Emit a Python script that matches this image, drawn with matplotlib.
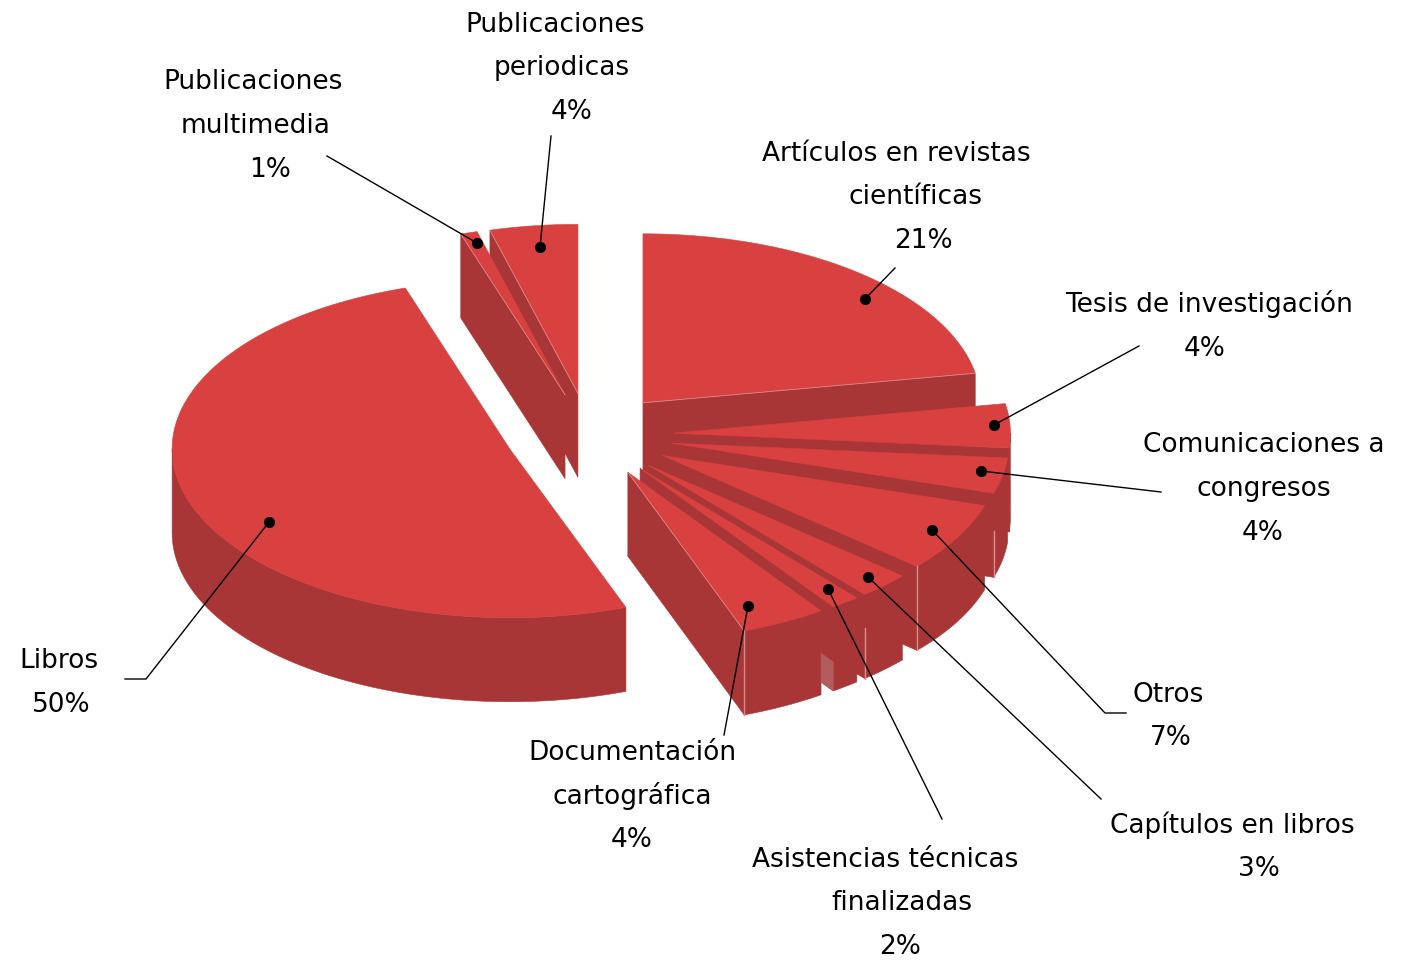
import numpy as np
import matplotlib
matplotlib.use('Agg')
import matplotlib.pyplot as plt
from matplotlib.patches import Polygon

# slices, clockwise from 12 o'clock
categories = ['Artículos en revistas científicas', 'Tesis de investigación',
              'Comunicaciones a congresos', 'Otros', 'Capítulos en libros',
              'Asistencias técnicas finalizadas', 'Documentación cartográfica',
              'Libros', 'Publicaciones multimedia', 'Publicaciones periodicas']
values = [22.2, 4.2, 3.4, 6.6, 2.5, 1.4, 4.1, 50.6, 0.8, 4.2]
percent_labels = ['21%', '4%', '4%', '7%', '3%', '2%', '4%', '50%', '1%', '4%']

# label lines: (text, centre x, centre y)
label_lines = [
    [('Artículos en revistas', 896, 152), ('científicas', 915, 195), (percent_labels[0], 923.5, 239)],
    [('Tesis de investigación', 1209.5, 303), (percent_labels[1], 1205, 347)],
    [('Comunicaciones a', 1264, 443), ('congresos', 1263.5, 487), (percent_labels[2], 1263, 531)],
    [('Otros', 1168, 693), (percent_labels[3], 1171, 736)],
    [('Capítulos en libros', 1232.5, 824), (percent_labels[4], 1259, 867)],
    [('Asistencias técnicas', 885.5, 858), ('finalizadas', 902, 901), (percent_labels[5], 900, 945)],
    [('Documentación', 632.5, 751), ('cartográfica', 632.5, 795), (percent_labels[6], 632, 838)],
    [('Libros', 59, 659), (percent_labels[7], 61.5, 703)],
    [('Publicaciones', 253, 80), ('multimedia', 256, 124), (percent_labels[8], 270, 168)],
    [('Publicaciones', 555.5, 23), ('periodicas', 561.5, 66), (percent_labels[9], 572, 110)],
]

# leader lines, first point is the dot on the slice
leaders = [
    [(865, 299), (895, 268)],
    [(994, 425), (1139, 346)],
    [(981, 471), (1161, 492)],
    [(932, 530), (1105, 713), (1126, 713)],
    [(868, 577), (1101, 799)],
    [(828, 589), (942, 819)],
    [(748, 606), (724, 735)],
    [(269, 522), (146, 679), (125, 679)],
    [(477, 243), (327, 156)],
    [(540, 247), (551, 136)],
]

TOP = '#d94040'
SIDE = '#a83636'
LIGHT = '#d98a8a'
CX, CY = 589, 435
RX, RY = 337.5, 169
DEPTH = 84
EXPLODE = 84

# how much of the outer vertical edge shows as a light line
edge_frac = {2: 0.55, 3: 1.0, 4: 0.6, 6: 1.0}
# slices whose radial edge has the light line
radial_light = [0, 6, 8, 9]


def to_rad(a):
    return np.deg2rad(a)


def rim(apex, a):
    a = to_rad(a)
    return apex[0] + RX * np.sin(a), apex[1] - RY * np.cos(a)


def add_poly(ax, pts, color):
    ax.add_patch(Polygon(pts, closed=True, facecolor=color, edgecolor=color, lw=0.4))


def draw_slice(ax, i, a0, a1):
    mid = to_rad((a0 + a1) / 2.0)
    apex = (CX + EXPLODE * np.sin(mid), CY - EXPLODE / 2.0 * np.cos(mid))

    # radial wall facing the viewer
    wall = None
    if a1 < 180:
        wall = a1
    elif a0 > 180 and a0 < 360 and a1 - a0 < 90:
        wall = a0
    if wall is not None:
        x, y = rim(apex, wall)
        add_poly(ax, [apex, (x, y), (x, y + DEPTH), (apex[0], apex[1] + DEPTH)], SIDE)

    # outer wall, only the front half shows
    lo, hi = max(a0, 90), min(a1, 270)
    if hi > lo:
        t = np.linspace(lo, hi, 80)
        xs, ys = rim(apex, t)
        pts = list(zip(xs, ys)) + list(zip(xs[::-1], ys[::-1] + DEPTH))
        add_poly(ax, pts, SIDE)

    t = np.linspace(a0, a1, 120)
    xs, ys = rim(apex, t)
    add_poly(ax, [apex] + list(zip(xs, ys)), TOP)

    if wall is not None and i in radial_light:
        x, y = rim(apex, wall)
        ax.plot([apex[0], x], [apex[1], y], color=LIGHT, lw=0.6)
    if i in edge_frac:
        x, y = rim(apex, a1)
        ax.plot([x, x], [y + DEPTH * (1 - edge_frac[i]), y + DEPTH], color=LIGHT, lw=1.0)
    return apex


def main():
    fig = plt.figure(figsize=(14.02, 9.67), dpi=100)
    ax = fig.add_axes([0, 0, 1, 1])
    ax.set_xlim(0, 1402)
    ax.set_ylim(967, 0)
    ax.axis('off')

    bounds = np.concatenate(([0], np.cumsum(values))) / np.sum(values) * 360.0
    apexes = {}
    for i in [9, 8, 0, 1, 2, 3, 4, 5, 6, 7]:
        apexes[i] = draw_slice(ax, i, bounds[i], bounds[i + 1])
        if i == 5:
            asist_end = rim(apexes[i], bounds[i + 1])

    # paler bit of the asistencias wall that sticks out past documentacion
    doc_x = rim(apexes[6], bounds[6])[0]
    slope = (asist_end[1] - apexes[5][1]) / (asist_end[0] - apexes[5][0])
    y_doc = asist_end[1] + (doc_x - asist_end[0]) * slope
    add_poly(ax, [(doc_x, y_doc + DEPTH), (asist_end[0], asist_end[1] + DEPTH),
                  (asist_end[0], asist_end[1] + DEPTH - 29), (doc_x, y_doc + DEPTH - 29)], '#b25c5c')

    for pts in leaders:
        xs = [p[0] for p in pts]
        ys = [p[1] for p in pts]
        ax.plot(xs, ys, color='black', lw=1.0, zorder=5)
        ax.plot(xs[0], ys[0], 'o', color='black', ms=8.0, mew=0, zorder=6)

    for lines in label_lines:
        for s, x, y in lines:
            ax.text(x, y + 9, s, ha='center', va='baseline', fontsize=19,
                    family='DejaVu Sans', color='black')

    fig.savefig('out.png', dpi=100)


if __name__ == '__main__':
    main()
